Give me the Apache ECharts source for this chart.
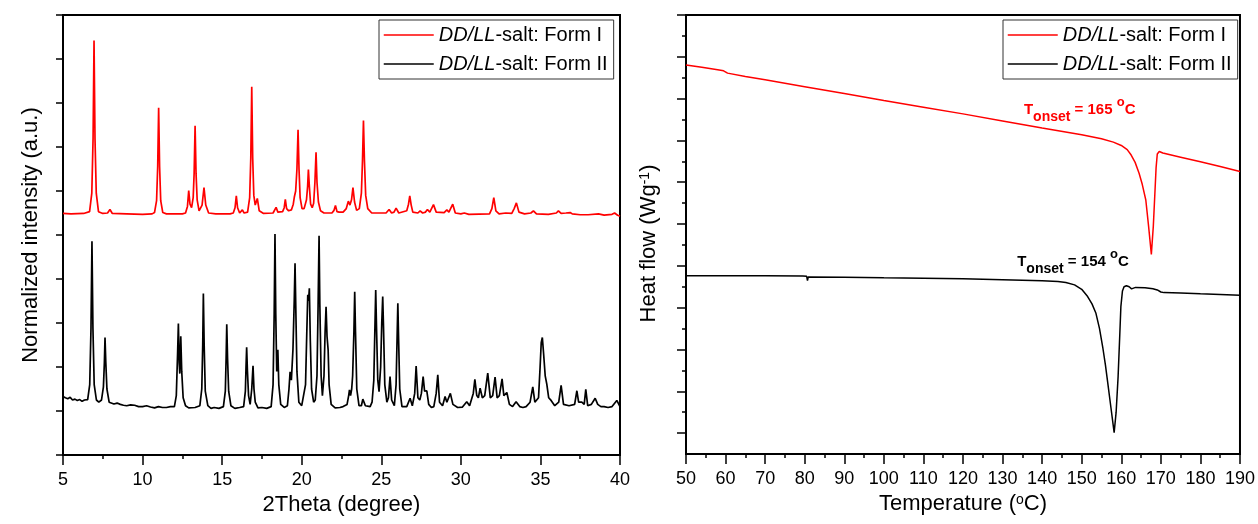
<!DOCTYPE html>
<html><head><meta charset="utf-8">
<script src="https://cdn.jsdelivr.net/npm/echarts@6/dist/echarts.min.js"></script>
<style>html,body{margin:0;padding:0;background:#fff}#c{width:1258px;height:524px}</style>
</head><body><div id="c"></div>
<script>
const seriesNames = ['DD/LL-salt: Form I', 'DD/LL-salt: Form II'];
const xrdTitleX = '2Theta (degree)';
const xrdTitleY = 'Normalized intensity (a.u.)';
const dscTitleX = 'Temperature ({sup|o}C)';
const dscTitleY = 'Heat flow (Wg{sup|-1})';
const onsetValues = [165, 154];

// XRD, Form I (red), [2theta, normalized intensity]
const xrdFormI = [[5.0,5.49],[5.5,5.48],[6.3,5.49],[6.67,5.53],[6.81,5.95],[6.89,7.2],[6.95,9.42],[7.01,7.2],[7.09,5.95],[7.23,5.53],[7.5,5.49],[7.8,5.5],[7.95,5.58],[8.1,5.49],[9.0,5.48],[10.0,5.47],[10.6,5.48],[10.75,5.51],[10.88,5.78],[10.95,6.55],[11.01,7.89],[11.07,6.55],[11.14,5.78],[11.27,5.51],[11.5,5.48],[12.5,5.48],[12.7,5.5],[12.82,5.65],[12.9,6.01],[12.98,5.7],[13.08,5.62],[13.18,5.85],[13.24,6.4],[13.3,7.48],[13.36,6.4],[13.43,5.8],[13.55,5.55],[13.74,5.68],[13.86,6.08],[13.97,5.68],[14.15,5.5],[14.6,5.48],[15.5,5.48],[15.7,5.5],[15.81,5.62],[15.89,5.89],[15.97,5.62],[16.1,5.5],[16.2,5.51],[16.27,5.57],[16.38,5.5],[16.6,5.52],[16.73,5.85],[16.8,6.75],[16.86,8.37],[16.92,6.75],[16.99,5.9],[17.08,5.68],[17.21,5.83],[17.33,5.55],[17.6,5.49],[18.2,5.5],[18.39,5.63],[18.5,5.52],[18.8,5.53],[18.9,5.62],[18.97,5.81],[19.05,5.6],[19.18,5.55],[19.35,5.57],[19.47,5.7],[19.54,5.87],[19.62,6.0],[19.7,6.5],[19.77,7.39],[19.83,6.5],[19.9,5.85],[20.02,5.6],[20.15,5.6],[20.3,5.8],[20.37,6.1],[20.42,6.49],[20.48,6.1],[20.56,5.7],[20.66,5.62],[20.75,5.72],[20.83,6.2],[20.9,6.88],[20.96,6.2],[21.05,5.75],[21.18,5.55],[21.4,5.5],[21.9,5.5],[22.03,5.56],[22.12,5.67],[22.22,5.53],[22.35,5.52],[22.47,5.55],[22.6,5.52],[22.8,5.6],[22.93,5.77],[23.03,5.68],[23.13,5.8],[23.22,6.08],[23.32,5.75],[23.45,5.56],[23.62,5.6],[23.75,5.95],[23.82,6.7],[23.88,7.6],[23.94,6.7],[24.02,5.9],[24.15,5.6],[24.4,5.5],[25.3,5.5],[25.49,5.58],[25.65,5.5],[25.8,5.52],[25.93,5.61],[26.1,5.5],[26.6,5.55],[26.71,5.7],[26.79,5.89],[26.88,5.68],[26.98,5.52],[27.3,5.5],[27.44,5.55],[27.6,5.5],[27.78,5.52],[27.9,5.58],[28.05,5.52],[28.15,5.55],[28.28,5.69],[28.45,5.52],[28.95,5.51],[29.12,5.57],[29.25,5.52],[29.35,5.55],[29.49,5.70],[29.65,5.5],[30.0,5.48],[30.22,5.5],[30.5,5.47],[31.8,5.48],[31.95,5.6],[32.07,5.85],[32.2,5.55],[32.4,5.48],[32.82,5.5],[33.2,5.49],[33.35,5.6],[33.49,5.73],[33.65,5.52],[34.0,5.48],[34.4,5.5],[34.56,5.55],[34.75,5.48],[35.5,5.47],[36.0,5.5],[36.13,5.55],[36.3,5.49],[36.6,5.5],[36.87,5.51],[37.0,5.48],[37.5,5.46],[38.0,5.46],[38.65,5.48],[39.0,5.45],[39.5,5.47],[39.66,5.5],[39.85,5.45],[40.0,5.43]];

// XRD, Form II (black)
const xrdFormII = [[5.0,1.33],[5.15,1.3],[5.3,1.28],[5.45,1.31],[5.6,1.25],[5.75,1.27],[5.9,1.24],[6.05,1.26],[6.2,1.22],[6.35,1.25],[6.55,1.26],[6.68,1.6],[6.76,2.9],[6.82,4.86],[6.88,2.9],[6.96,1.6],[7.1,1.25],[7.25,1.2],[7.42,1.25],[7.54,1.55],[7.6,2.1],[7.64,2.67],[7.69,2.1],[7.76,1.5],[7.9,1.2],[8.0,1.18],[8.2,1.16],[8.4,1.18],[8.6,1.15],[8.8,1.13],[9.0,1.12],[9.25,1.14],[9.5,1.13],[9.75,1.1],[10.0,1.1],[10.25,1.12],[10.5,1.09],[10.75,1.07],[11.0,1.1],[11.25,1.08],[11.5,1.08],[11.75,1.1],[12.0,1.1],[12.12,1.35],[12.2,2.3],[12.25,2.99],[12.3,2.1],[12.34,1.85],[12.4,2.7],[12.46,1.9],[12.55,1.3],[12.7,1.12],[12.9,1.07],[13.3,1.08],[13.6,1.12],[13.72,1.5],[13.78,2.5],[13.82,3.67],[13.87,2.5],[13.94,1.45],[14.1,1.12],[14.3,1.06],[14.5,1.08],[14.8,1.06],[15.08,1.1],[15.2,1.45],[15.25,2.2],[15.29,2.97],[15.34,2.2],[15.41,1.45],[15.55,1.12],[15.8,1.06],[16.1,1.08],[16.35,1.1],[16.46,1.45],[16.5,2.0],[16.54,2.45],[16.59,1.9],[16.66,1.35],[16.76,1.15],[16.86,1.5],[16.94,2.03],[17.0,1.5],[17.08,1.2],[17.25,1.07],[17.5,1.08],[17.8,1.06],[18.08,1.1],[18.2,1.6],[18.27,3.2],[18.32,5.02],[18.37,3.2],[18.43,1.9],[18.5,2.39],[18.56,1.6],[18.68,1.15],[18.9,1.08],[19.1,1.12],[19.2,1.5],[19.27,1.89],[19.35,1.7],[19.45,2.4],[19.53,3.5],[19.58,4.36],[19.63,3.3],[19.7,1.9],[19.82,1.2],[20.0,1.12],[20.12,1.13],[20.24,1.6],[20.32,2.8],[20.38,3.64],[20.43,3.5],[20.48,3.79],[20.54,2.6],[20.62,1.5],[20.75,1.2],[20.85,1.25],[20.96,1.8],[21.03,3.4],[21.09,4.98],[21.14,3.4],[21.22,1.8],[21.3,1.35],[21.4,1.8],[21.47,2.8],[21.53,3.37],[21.59,2.7],[21.66,2.39],[21.72,1.6],[21.85,1.15],[22.1,1.07],[22.4,1.08],[22.6,1.1],[22.85,1.15],[22.95,1.35],[23.0,1.48],[23.07,1.35],[23.14,1.5],[23.2,1.8],[23.28,2.8],[23.33,3.71],[23.38,2.8],[23.46,1.5],[23.6,1.12],[23.75,1.12],[23.84,1.27],[24.0,1.12],[24.3,1.1],[24.42,1.2],[24.53,1.7],[24.6,2.9],[24.65,3.75],[24.7,2.9],[24.78,1.7],[24.86,1.44],[24.96,2.0],[25.03,3.0],[25.09,3.6],[25.14,2.9],[25.22,1.6],[25.35,1.2],[25.45,1.3],[25.55,1.78],[25.65,1.25],[25.82,1.12],[25.93,1.6],[25.99,2.6],[26.04,3.45],[26.09,2.6],[26.16,1.5],[26.3,1.1],[26.6,1.1],[26.81,1.29],[26.95,1.12],[27.1,1.4],[27.19,2.02],[27.3,1.3],[27.42,1.25],[27.52,1.4],[27.63,1.78],[27.72,1.45],[27.86,1.46],[27.98,1.15],[28.15,1.08],[28.3,1.1],[28.45,1.4],[28.55,1.82],[28.66,1.2],[28.85,1.12],[29.01,1.33],[29.12,1.2],[29.34,1.4],[29.5,1.15],[29.8,1.08],[30.1,1.09],[30.37,1.21],[30.55,1.12],[30.78,1.4],[30.88,1.72],[31.0,1.35],[31.1,1.3],[31.21,1.52],[31.35,1.3],[31.5,1.35],[31.69,1.86],[31.85,1.3],[32.0,1.35],[32.15,1.77],[32.28,1.3],[32.42,1.35],[32.59,1.73],[32.7,1.35],[32.89,1.42],[33.05,1.15],[33.25,1.1],[33.47,1.21],[33.7,1.1],[33.9,1.08],[34.1,1.1],[34.35,1.2],[34.52,1.55],[34.65,1.2],[34.88,1.3],[34.98,2.0],[35.05,2.55],[35.12,2.67],[35.2,2.3],[35.3,1.8],[35.4,1.61],[35.52,1.3],[35.67,1.24],[35.9,1.12],[36.15,1.2],[36.3,1.58],[36.45,1.15],[36.8,1.12],[37.15,1.15],[37.29,1.46],[37.4,1.2],[37.6,1.2],[37.75,1.15],[37.85,1.49],[37.97,1.12],[38.2,1.15],[38.44,1.29],[38.6,1.15],[38.8,1.1],[39.0,1.1],[39.25,1.08],[39.5,1.1],[39.8,1.24],[40.0,1.1]];

// DSC, Form I (red), [T, heat flow]
const dscFormI = [[50,18.61],[54,18.50],[58,18.38],[59.5,18.33],[60.5,18.22],[65,18.06],[70,17.90],[80,17.57],[90,17.24],[100,16.91],[110,16.59],[120,16.27],[130,15.93],[140,15.59],[150,15.27],[155,15.08],[158,14.92],[160,14.76],[161.5,14.56],[162.5,14.30],[163.5,13.95],[164.5,13.43],[165.3,12.9],[166.2,12.15],[166.9,10.9],[167.6,9.55],[168.1,10.9],[168.5,12.5],[168.8,13.7],[169.1,14.35],[169.6,14.47],[170.5,14.40],[175,14.20],[180,13.98],[185,13.75],[190,13.51]];

// DSC, Form II (black)
const dscFormII = [[50,8.53],[60,8.53],[70,8.53],[79.5,8.52],[80.5,8.50],[80.7,8.29],[80.9,8.47],[90,8.46],[100,8.43],[110,8.41],[120,8.38],[130,8.34],[140,8.29],[144,8.25],[146,8.20],[148.2,8.09],[150,7.88],[151.5,7.53],[152.6,7.18],[153.6,6.73],[154.5,6.0],[155.3,5.13],[156.0,4.25],[156.6,3.38],[157.4,2.2],[158.2,1.02],[158.7,2.0],[159.2,3.70],[159.6,5.6],[159.9,7.05],[160.3,7.8],[160.7,8.00],[161.3,8.05],[162.0,8.0],[162.6,7.90],[163.1,7.85],[163.6,7.97],[164.1,8.0],[166,7.95],[168,7.90],[169.1,7.85],[170,7.75],[170.8,7.72],[175,7.70],[180,7.66],[185,7.63],[190,7.59]];

const FONT = 'Liberation Sans, Arial, sans-serif';
const AXC = '#000';

function onsetLabel(value, color) {
  return {
    show: true, position: 'right', distance: 0,
    formatter: '{b|T}{sub|onset}{b| = ' + value + ' }{sup|o}{b|C}',
    rich: {
      b: {fontSize: 15, fontWeight: 'bold', color: color, fontFamily: FONT, lineHeight: 28, verticalAlign: 'middle'},
      sub: {fontSize: 14, fontWeight: 'bold', color: color, fontFamily: FONT, lineHeight: 13, verticalAlign: 'bottom'},
      sup: {fontSize: 13, fontWeight: 'bold', color: color, fontFamily: FONT, lineHeight: 13, verticalAlign: 'top'}
    }
  };
}

function mkLegend(left) {
  return {
    left: left, top: 20, orient: 'vertical', data: seriesNames,
    itemWidth: 50, itemHeight: 14, itemGap: 5,
    padding: [3, 6, 3, 4], borderColor: '#333', borderWidth: 1, borderRadius: 0,
    selectedMode: false,
    itemStyle: {opacity: 0, borderWidth: 0},
    lineStyle: {width: 1.5},
    formatter: n => n.replace('DD/LL', '{i|DD/LL}'),
    textStyle: {fontSize: 20, fontFamily: FONT, color: '#000', lineHeight: 24,
      rich: {i: {fontStyle: 'italic', fontSize: 20, fontFamily: FONT, color: '#000', lineHeight: 24}}}
  };
}

const tickStyle = {color: AXC, width: 1.5};
const nameStyle = {fontSize: 22, fontFamily: FONT, color: '#000'};
const labelStyle = {fontSize: 18, fontFamily: FONT, color: '#000'};
const supRich = {sup: {fontSize: 14, fontFamily: FONT, color: '#000', verticalAlign: 'top', lineHeight: 14}};

const majorDsc = [1,3,5,7,9,11,13,15,17,19,21];
const minorDsc = [2,4,6,8,10,12,14,16,18,20];

const chart = echarts.init(document.getElementById('c'), null, {renderer: 'canvas'});
chart.setOption({
  animation: false,
  backgroundColor: '#fff',
  legend: [mkLegend(379), mkLegend(1003)],
  grid: [
    {left: 63, top: 15, width: 557, height: 440, show: true, borderColor: AXC, borderWidth: 2, backgroundColor: 'transparent'},
    {left: 686, top: 15, width: 557, height: 439, show: true, borderColor: AXC, borderWidth: 2, backgroundColor: 'transparent'}
  ],
  xAxis: [
    {gridIndex: 0, type: 'value', min: 5, max: 40, interval: 5,
      name: xrdTitleX, nameLocation: 'middle', nameGap: 34, nameTextStyle: nameStyle,
      axisLine: {show: true, lineStyle: {color: AXC, width: 2}},
      axisTick: {show: true, inside: false, length: 10, lineStyle: tickStyle},
      minorTick: {show: true, splitNumber: 2, length: 4, lineStyle: tickStyle},
      axisLabel: Object.assign({margin: 16}, labelStyle),
      splitLine: {show: false}},
    {gridIndex: 1, type: 'value', min: 50, max: 190, interval: 10,
      name: dscTitleX, nameLocation: 'middle', nameGap: 33,
      nameTextStyle: Object.assign({rich: supRich}, nameStyle),
      axisLine: {show: true, lineStyle: {color: AXC, width: 2}},
      axisTick: {show: true, inside: false, length: 10, lineStyle: tickStyle},
      minorTick: {show: true, splitNumber: 2, length: 4, lineStyle: tickStyle},
      axisLabel: Object.assign({margin: 16}, labelStyle),
      splitLine: {show: false}}
  ],
  yAxis: [
    {gridIndex: 0, type: 'value', min: 0, max: 10, interval: 1, position: 'left',
      name: xrdTitleY, nameLocation: 'middle', nameGap: 21, nameTextStyle: nameStyle,
      axisLine: {show: true, lineStyle: {color: AXC, width: 2}},
      axisTick: {show: true, inside: false, length: 7, lineStyle: tickStyle},
      axisLabel: {show: false}, splitLine: {show: false}},
    {gridIndex: 1, type: 'value', min: 0, max: 21, position: 'left',
      name: dscTitleY, nameLocation: 'middle', nameGap: 26,
      nameTextStyle: Object.assign({rich: supRich, padding: [0, 18, 0, 0]}, nameStyle),
      axisLine: {show: true, lineStyle: {color: AXC, width: 2}},
      axisTick: {show: true, inside: false, length: 9, lineStyle: tickStyle, customValues: majorDsc},
      axisLabel: {show: false}, splitLine: {show: false}},
    {gridIndex: 1, type: 'value', min: 0, max: 21, position: 'left', offset: 0, show: true,
      axisLine: {show: true, onZero: false, lineStyle: {color: 'rgba(0,0,0,0)', width: 0}},
      axisTick: {show: true, inside: false, length: 4, lineStyle: tickStyle, customValues: minorDsc},
      axisLabel: {show: false}, splitLine: {show: false}}
  ],
  series: [
    {name: seriesNames[0], type: 'line', xAxisIndex: 0, yAxisIndex: 0, data: xrdFormI, symbol: 'none',
      lineStyle: {color: '#ff0000', width: 1.7}, itemStyle: {color: '#ff0000'}},
    {name: seriesNames[1], type: 'line', xAxisIndex: 0, yAxisIndex: 0, data: xrdFormII, symbol: 'none',
      lineStyle: {color: '#000', width: 1.7}, itemStyle: {color: '#000'}},
    {name: seriesNames[0], type: 'line', xAxisIndex: 1, yAxisIndex: 1, data: dscFormI, symbol: 'none',
      lineStyle: {color: '#ff0000', width: 1.5}, itemStyle: {color: '#ff0000'},
      markPoint: {symbol: 'circle', symbolSize: 0, silent: true, animation: false,
        data: [{coord: [135.4, 16.47]}], label: onsetLabel(onsetValues[0], '#ff0000')}},
    {name: seriesNames[1], type: 'line', xAxisIndex: 1, yAxisIndex: 1, data: dscFormII, symbol: 'none',
      lineStyle: {color: '#000', width: 1.5}, itemStyle: {color: '#000'},
      markPoint: {symbol: 'circle', symbolSize: 0, silent: true, animation: false,
        data: [{coord: [133.7, 9.19]}], label: onsetLabel(onsetValues[1], '#000')}}
  ]
});
</script>
</body></html>
